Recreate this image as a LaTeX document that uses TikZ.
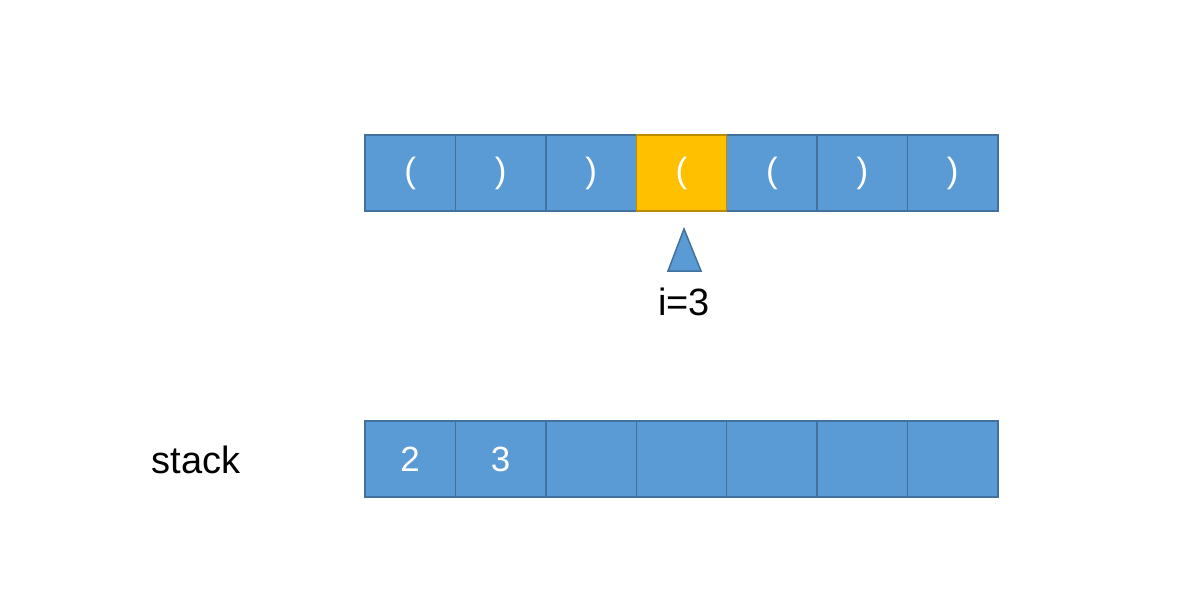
\documentclass[tikz,border=0pt]{standalone}
\usepackage{fontspec}
\setmainfont{Liberation Sans}
\definecolor{cellblue}{HTML}{5B9BD5}
\definecolor{cellline}{HTML}{41719C}
\definecolor{cellgold}{HTML}{FFC000}
\definecolor{goldline}{HTML}{BC8C00}
\begin{document}
\begin{tikzpicture}[x=1pt,y=-1pt,
  cell/.style={draw=cellline, fill=cellblue, line width=1.5pt, minimum width=90.43pt, minimum height=76pt, inner sep=0pt, text=white, font=\fontsize{35}{40}\selectfont},
  hot/.style={cell, draw=goldline, fill=cellgold},
  label/.style={font=\fontsize{38}{44}\selectfont, text=black}]
\useasboundingbox (0,0) rectangle (1186,592);
\foreach \i/\t/\s in {0/(/cell,1/)/cell,2/)/cell,3/(/hot,4/(/cell,5/)/cell,6/)/cell}{
  \node[\s] (a\i) at ({365+90.43*(\i+0.5)},173) {\t};
}
\foreach \i/\t in {0/2,1/3,2/,3/,4/,5/,6/}{
  \node[cell] (s\i) at ({365+90.43*(\i+0.5)},459) {\t};
}
\node[hot] at (a3) {(};
\coordinate (tip) at (684,229);
\draw[draw=cellline, fill=cellblue, line width=1.5pt, line join=miter] (tip) -- (701,271) -- (668,271) -- cycle;
\node[label] (ilabel) at (684,302) {i=3};
\node[label] (stacklabel) at (196,460) {stack};
\end{tikzpicture}
\end{document}
